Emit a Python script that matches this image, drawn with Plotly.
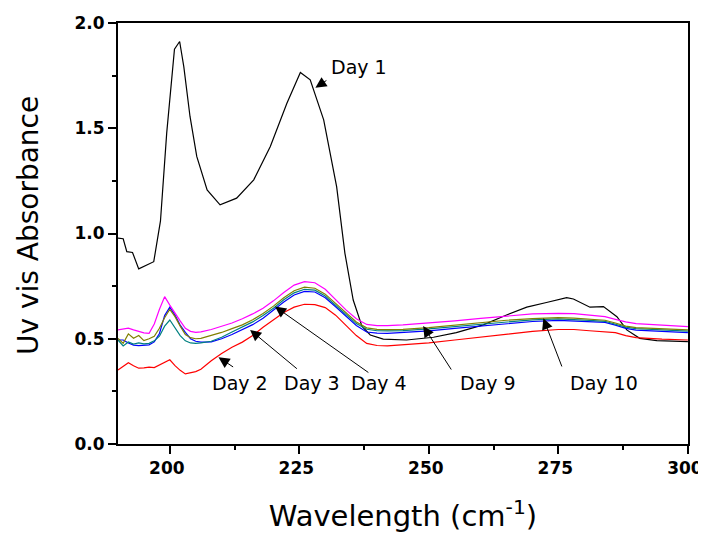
import plotly.graph_objects as go

# wavelength grid for the five flatter spectra
wl = [190, 191, 192, 193, 194, 195, 196, 197, 198, 199, 200, 201, 202, 203, 204,
      205, 206, 208, 210, 212, 214, 216, 218, 220, 222, 224, 226, 228, 230, 232,
      234, 236, 238, 240, 242, 245, 250, 255, 260, 265, 270, 275, 278, 281, 284,
      286, 288, 290, 295, 300]

day2 = [0.352, 0.370, 0.386, 0.372, 0.360, 0.362, 0.365, 0.363, 0.375, 0.390, 0.400,
        0.372, 0.350, 0.333, 0.338, 0.344, 0.355, 0.395, 0.430, 0.460, 0.484, 0.515,
        0.555, 0.590, 0.625, 0.650, 0.664, 0.662, 0.648, 0.612, 0.565, 0.515, 0.478,
        0.468, 0.466, 0.470, 0.480, 0.494, 0.508, 0.522, 0.535, 0.544, 0.544, 0.538,
        0.534, 0.529, 0.515, 0.505, 0.498, 0.494]

day3 = [0.494, 0.494, 0.480, 0.470, 0.467, 0.470, 0.471, 0.485, 0.525, 0.610, 0.650,
        0.612, 0.565, 0.530, 0.500, 0.488, 0.484, 0.485, 0.500, 0.520, 0.542, 0.567,
        0.597, 0.635, 0.675, 0.708, 0.725, 0.722, 0.695, 0.652, 0.606, 0.563, 0.532,
        0.527, 0.526, 0.529, 0.537, 0.549, 0.561, 0.573, 0.582, 0.587, 0.585, 0.581,
        0.578, 0.565, 0.549, 0.541, 0.535, 0.529]

day4 = [0.494, 0.466, 0.485, 0.475, 0.480, 0.476, 0.478, 0.490, 0.512, 0.560, 0.589,
        0.555, 0.515, 0.490, 0.480, 0.478, 0.480, 0.488, 0.507, 0.532, 0.555, 0.580,
        0.610, 0.645, 0.685, 0.718, 0.735, 0.731, 0.703, 0.660, 0.614, 0.572, 0.545,
        0.538, 0.537, 0.539, 0.547, 0.558, 0.570, 0.581, 0.590, 0.594, 0.592, 0.587,
        0.583, 0.570, 0.555, 0.548, 0.541, 0.536]

day9 = [0.502, 0.478, 0.523, 0.502, 0.515, 0.491, 0.500, 0.512, 0.550, 0.600, 0.640,
        0.605, 0.560, 0.520, 0.505, 0.500, 0.502, 0.515, 0.530, 0.548, 0.566, 0.590,
        0.620, 0.655, 0.695, 0.728, 0.745, 0.740, 0.712, 0.668, 0.622, 0.580, 0.552,
        0.545, 0.543, 0.545, 0.553, 0.565, 0.577, 0.588, 0.596, 0.600, 0.598, 0.592,
        0.588, 0.575, 0.560, 0.553, 0.547, 0.542]

day10 = [0.542, 0.545, 0.550, 0.542, 0.535, 0.528, 0.526, 0.570, 0.640, 0.700, 0.660,
         0.620, 0.585, 0.550, 0.535, 0.530, 0.533, 0.544, 0.558, 0.575, 0.595, 0.618,
         0.645, 0.680, 0.720, 0.755, 0.771, 0.766, 0.735, 0.685, 0.637, 0.595, 0.568,
         0.562, 0.562, 0.566, 0.575, 0.585, 0.597, 0.608, 0.618, 0.621, 0.619, 0.612,
         0.605, 0.592, 0.580, 0.572, 0.565, 0.558]

# day 1 has sharp peaks, read on its own grid
wl_day1 = [190, 191, 191.7, 192.8, 194, 196.9, 198.2, 199.4, 200.9, 201.9, 202.7,
           203.9, 205.2, 207.2, 209.7, 212.9, 216.2, 219.4, 222.6, 225.2, 227.1,
           229.7, 232.2, 233.8, 235.4, 237.1, 238.7, 241.2, 245.7, 250.9, 255.3,
           260.5, 265, 268.9, 272.7, 276.6, 277.9, 281.1, 283.7, 286.3, 288.2,
           290.7, 294, 300]
day1 = [0.978, 0.975, 0.914, 0.910, 0.832, 0.866, 1.060, 1.477, 1.876, 1.912, 1.793,
        1.556, 1.366, 1.207, 1.136, 1.168, 1.255, 1.413, 1.619, 1.765, 1.730, 1.540,
        1.223, 0.906, 0.684, 0.558, 0.518, 0.498, 0.494, 0.507, 0.529, 0.566, 0.613,
        0.650, 0.672, 0.695, 0.689, 0.650, 0.653, 0.605, 0.542, 0.502, 0.491, 0.486]

series = [
    ('Day 1', wl_day1, day1, '#000000'),
    ('Day 2', wl, day2, '#ff0000'),
    ('Day 3', wl, day3, '#0000ff'),
    ('Day 4', wl, day4, '#008080'),
    ('Day 9', wl, day9, '#808000'),
    ('Day 10', wl, day10, '#ff00ff'),
]

# label: (text x, text y, arrow tail x, tail y, tip x, tip y)
labels = [
    ('Day 1', 230.7, 1.792, 230.9, 1.738, 228.1, 1.692),
    ('Day 2', 207.7, 0.29, 212.9, 0.355, 209.4, 0.412),
    ('Day 3', 221.6, 0.29, 225.2, 0.344, 215.5, 0.542),
    ('Day 4', 234.5, 0.29, 239.0, 0.328, 220.3, 0.653),
    ('Day 9', 255.7, 0.29, 255.0, 0.328, 248.9, 0.561),
    ('Day 10', 276.8, 0.29, 276.3, 0.328, 272.1, 0.597),
]

fig = go.Figure()
for name, x, y, color in series:
    fig.add_trace(go.Scatter(x=x, y=y, mode='lines', name=name,
                             line=dict(color=color, width=1.2), showlegend=False))

font_family = 'DejaVu Sans'
for text, tx, ty, ax, ay, px, py in labels:
    fig.add_annotation(x=tx, y=ty, text=text, showarrow=False,
                       xanchor='left', yanchor='middle',
                       font=dict(family=font_family, size=19, color='black'))
    fig.add_annotation(x=px, y=py, ax=ax, ay=ay, axref='x', ayref='y', text=' ',
                       showarrow=True, arrowhead=2, arrowsize=2.2, arrowwidth=1,
                       arrowcolor='black', standoff=0)

# y title placed by hand so it sits close to the left edge
fig.add_annotation(text='Uv vis Absorbance', xref='paper', yref='paper',
                   x=-0.158, y=0.52, xanchor='center', yanchor='middle',
                   textangle=-90, showarrow=False,
                   font=dict(family=font_family, size=28, color='black'))

axis_common = dict(
    showline=True, linecolor='black', linewidth=2, mirror=True, automargin=False,
    showgrid=False, zeroline=False, ticks='outside', ticklen=8, tickwidth=1.5,
    tickcolor='black', ticklabeloverflow='allow',
    tickfont=dict(family=font_family, size=17, color='black', weight='bold'),
)

fig.update_xaxes(range=[190, 300.02], tick0=0, dtick=25, ticklabelshift=-3,
                 minor=dict(dtick=12.5, ticks='outside', ticklen=4, tickcolor='black'),
                 title=dict(text='Wavelength (cm<sup>-1</sup>)',
                            font=dict(family=font_family, size=29, color='black'),
                            standoff=38),
                 **axis_common)
fig.update_yaxes(range=[0, 2], tick0=0, dtick=0.5, tickformat='.1f',
                 minor=dict(dtick=0.25, ticks='outside', ticklen=4, tickcolor='black'),
                 **axis_common)

# page body adds an 8px offset, so the figure is drawn 8px smaller
fig.update_layout(
    width=698, height=525,
    margin=dict(l=110, r=18, t=15, b=89),
    paper_bgcolor='white', plot_bgcolor='white',
    font=dict(family=font_family, color='black'),
)

fig.write_html('out.html')
